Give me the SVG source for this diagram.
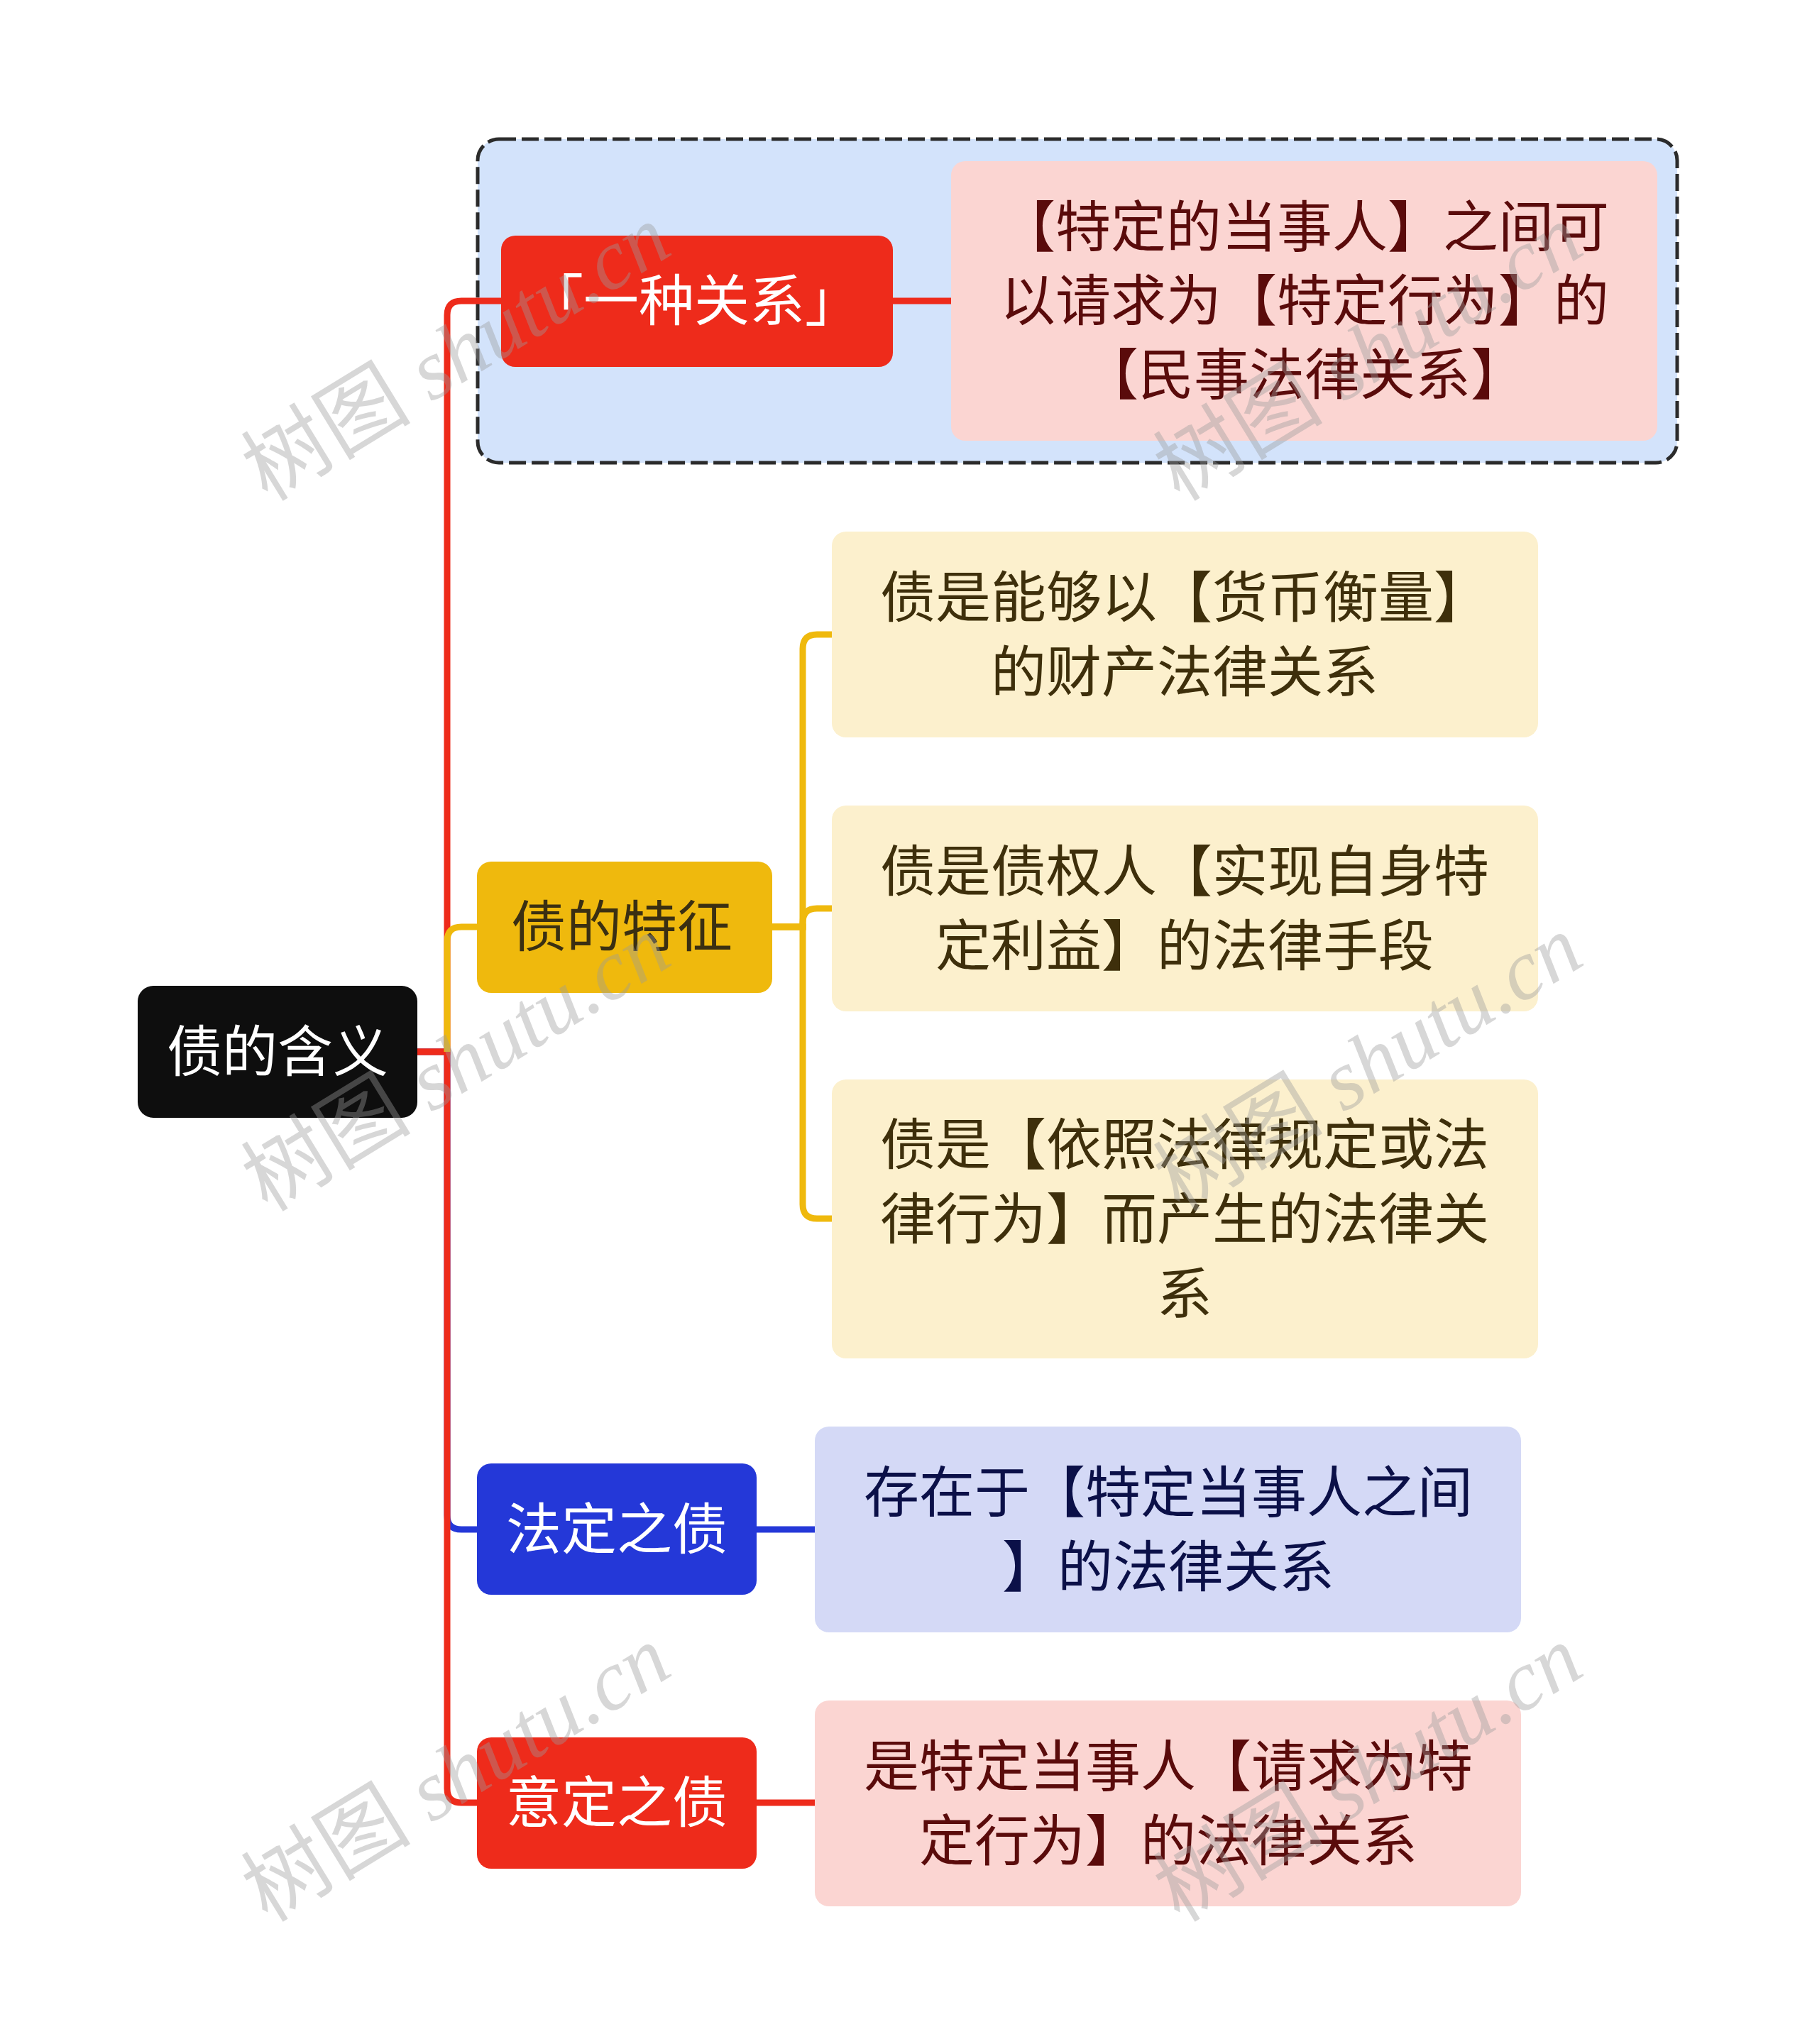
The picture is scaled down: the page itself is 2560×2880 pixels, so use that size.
<svg xmlns="http://www.w3.org/2000/svg" width="2560" height="2880" viewBox="0 0 2560 2880">
<style>
.t{font-family:"Noto Sans CJK SC","Liberation Sans",sans-serif;font-size:78px;text-anchor:middle}
.w{fill:#ffffff}
.line{fill:none;stroke-width:9;stroke-linejoin:miter}
.wm{font-size:120px;fill:#9a9a9a;fill-opacity:0.4}
</style>
<rect width="2560" height="2880" fill="#ffffff"/>
<g id="group-box">
<rect x="673" y="196" width="1690" height="456" rx="30" fill="#D3E3FB" stroke="#2b2b2b" stroke-width="5" stroke-dasharray="24 8"/>
</g>
<g id="connectors">
<path class="line" stroke="#2438D8" d="M588,1482 H630 V2135 Q630,2155 650,2155 H672"/>
<path class="line" stroke="#EE2B1B" d="M588,1482 H630 V2520 Q630,2540 650,2540 H672"/>
<path class="line" stroke="#EE2B1B" d="M588,1482 H630 V444 Q630,424 650,424 H706"/>
<path class="line" stroke="#EFB90D" d="M630,1482 V1326 Q630,1306 650,1306 H672"/>
<path class="line" stroke="#EE2B1B" d="M1258,424 H1340"/>
<path class="line" stroke="#EFB90D" d="M1088,1306 H1131 V914 Q1131,894 1151,894 H1172"/>
<path class="line" stroke="#EFB90D" d="M1088,1306 H1131 V1300 Q1131,1280 1151,1280 H1172"/>
<path class="line" stroke="#EFB90D" d="M1088,1306 H1131 V1697 Q1131,1717 1151,1717 H1172"/>
<path class="line" stroke="#2438D8" d="M1066,2155 H1148"/>
<path class="line" stroke="#EE2B1B" d="M1066,2540 H1148"/>
</g>
<g id="root">
<rect x="194" y="1389" width="394" height="186" rx="22" fill="#0E0E0E"/>
<text class="t w" x="391" y="1510">债的含义</text>
</g>
<g id="node-relation">
<rect x="706" y="332" width="552" height="185" rx="20" fill="#EE2B1B"/>
<text class="t w" x="978" y="452">「一种关系」</text>
</g>
<g id="node-relation-desc">
<rect x="1340" y="227" width="995" height="394" rx="20" fill="#FBD5D2"/>
<text class="t" fill="#5A0B0B"><tspan x="1838" y="348">【特定的当事人】之间可</tspan><tspan x="1838" y="452">以请求为【特定行为】的</tspan><tspan x="1838" y="556">【民事法律关系】</tspan></text>
</g>
<g id="node-features">
<rect x="672" y="1214" width="416" height="185" rx="20" fill="#EFB90D"/>
<text class="t" fill="#3a2f12" x="876" y="1334">债的特征</text>
</g>
<g id="node-feature-1">
<rect x="1172" y="749" width="995" height="290" rx="20" fill="#FCF0CD"/>
<text class="t" fill="#3E2F0B"><tspan x="1669" y="870">债是能够以【货币衡量】</tspan><tspan x="1669" y="975">的财产法律关系</tspan></text>
</g>
<g id="node-feature-2">
<rect x="1172" y="1135" width="995" height="290" rx="20" fill="#FCF0CD"/>
<text class="t" fill="#3E2F0B"><tspan x="1669" y="1256">债是债权人【实现自身特</tspan><tspan x="1669" y="1361">定利益】的法律手段</tspan></text>
</g>
<g id="node-feature-3">
<rect x="1172" y="1521" width="995" height="393" rx="20" fill="#FCF0CD"/>
<text class="t" fill="#3E2F0B"><tspan x="1669" y="1641">债是【依照法律规定或法</tspan><tspan x="1669" y="1746">律行为】而产生的法律关</tspan><tspan x="1669" y="1851">系</tspan></text>
</g>
<g id="node-legal">
<rect x="672" y="2062" width="394" height="185" rx="20" fill="#2438D8"/>
<text class="t w" x="869" y="2183">法定之债</text>
</g>
<g id="node-legal-desc">
<rect x="1148" y="2010" width="995" height="290" rx="20" fill="#D4D9F6"/>
<text class="t" fill="#0B1048"><tspan x="1646" y="2131">存在于【特定当事人之间</tspan><tspan x="1646" y="2236">】的法律关系</tspan></text>
</g>
<g id="node-intent">
<rect x="672" y="2448" width="394" height="185" rx="20" fill="#EE2B1B"/>
<text class="t w" x="869" y="2568">意定之债</text>
</g>
<g id="node-intent-desc">
<rect x="1148" y="2396" width="995" height="290" rx="20" fill="#FBD5D2"/>
<text class="t" fill="#5A0B0B"><tspan x="1646" y="2517">是特定当事人【请求为特</tspan><tspan x="1646" y="2622">定行为】的法律关系</tspan></text>
</g>
<g id="watermarks">
<text class="wm" x="377" y="708" transform="rotate(-31.5 377 708)"><tspan font-family="Noto Sans CJK SC, sans-serif">树图</tspan><tspan font-family="Liberation Serif, serif" font-style="italic"> shutu.cn</tspan></text>
<text class="wm" x="1662" y="708" transform="rotate(-31.5 1662 708)"><tspan font-family="Noto Sans CJK SC, sans-serif">树图</tspan><tspan font-family="Liberation Serif, serif" font-style="italic"> shutu.cn</tspan></text>
<text class="wm" x="377" y="1709" transform="rotate(-31.5 377 1709)"><tspan font-family="Noto Sans CJK SC, sans-serif">树图</tspan><tspan font-family="Liberation Serif, serif" font-style="italic"> shutu.cn</tspan></text>
<text class="wm" x="1662" y="1709" transform="rotate(-31.5 1662 1709)"><tspan font-family="Noto Sans CJK SC, sans-serif">树图</tspan><tspan font-family="Liberation Serif, serif" font-style="italic"> shutu.cn</tspan></text>
<text class="wm" x="377" y="2710" transform="rotate(-31.5 377 2710)"><tspan font-family="Noto Sans CJK SC, sans-serif">树图</tspan><tspan font-family="Liberation Serif, serif" font-style="italic"> shutu.cn</tspan></text>
<text class="wm" x="1662" y="2710" transform="rotate(-31.5 1662 2710)"><tspan font-family="Noto Sans CJK SC, sans-serif">树图</tspan><tspan font-family="Liberation Serif, serif" font-style="italic"> shutu.cn</tspan></text>
</g>
</svg>
